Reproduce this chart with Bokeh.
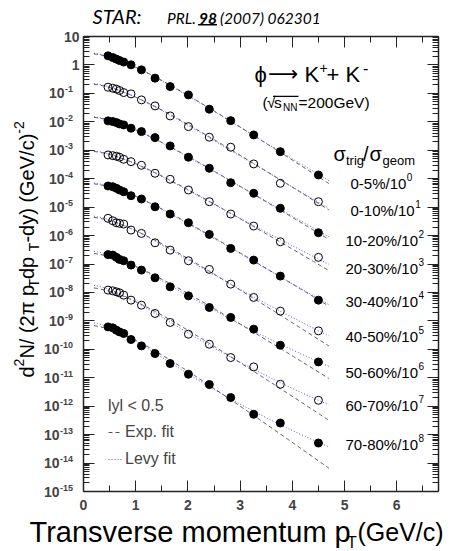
import numpy as np
from bokeh.plotting import figure
from bokeh.models import (Range1d, FixedTicker, LinearAxis, LogAxis, Label,
                          Legend, LegendItem, BoxAnnotation, CustomJSTickFormatter)
from bokeh.embed import file_html
from bokeh.resources import INLINE

# ---------------- data ----------------
pt = [0.47, 0.56, 0.63, 0.69, 0.77, 0.91, 1.11, 1.37, 1.66, 2.01, 2.41, 2.82, 3.26, 3.77, 4.50]

y_0_5   = [2.09, 1.82, 1.60, 1.43, 1.26, 1.01, 0.672, 0.343, 0.173, 0.0885, 0.0278, 0.0110, 3.46e-3, 8.93e-4, 1.35e-4]
y_0_10  = [0.165, 0.152, 0.141, 0.126, 0.107, 0.0960, 0.0590, 0.0363, 0.0161, 6.78e-3, 2.87e-3, 1.28e-3, 3.30e-4, 6.89e-5, 1.55e-5]
y_10_20 = [1.08e-2, 1.02e-2, 9.38e-3, 8.43e-3, 7.78e-3, 5.96e-3, 4.52e-3, 2.78e-3, 1.42e-3, 5.68e-4, 2.32e-4, 7.23e-5, 3.06e-5, 9.08e-6, 1.26e-6]
y_20_30 = [6.84e-4, 6.46e-4, 6.15e-4, 5.68e-4, 4.82e-4, 3.97e-4, 2.96e-4, 1.55e-4, 9.53e-5, 4.00e-5, 1.55e-5, 5.71e-6, 2.16e-6, 6.05e-7, 1.71e-7]
y_30_40 = [5.53e-5, 5.22e-5, 4.59e-5, 4.00e-5, 3.48e-5, 2.52e-5, 1.93e-5, 1.03e-5, 5.71e-6, 2.82e-6, 1.10e-6, 3.54e-7, 1.37e-7, 3.75e-8, 5.36e-9]
y_40_50 = [4.04e-6, 3.32e-6, 2.82e-6, 2.69e-6, 2.54e-6, 1.56e-6, 1.19e-6, 5.57e-7, 3.08e-7, 1.30e-7, 6.46e-8, 1.96e-8, 6.67e-9, 2.20e-9, 4.45e-10]
y_50_60 = [2.14e-7, 2.06e-7, 1.71e-7, 1.45e-7, 1.30e-7, 9.14e-8, 6.10e-8, 3.27e-8, 1.57e-8, 7.59e-9, 2.96e-9, 1.32e-9, 5.11e-10, 1.39e-10, 3.60e-11]
y_60_70 = [1.21e-8, 1.14e-8, 1.05e-8, 9.68e-9, 8.04e-9, 5.36e-9, 3.57e-9, 1.82e-9, 8.79e-10, 3.40e-10, 1.51e-10, 5.14e-11, 2.40e-11, 5.90e-12, 1.61e-12]
y_70_80 = [6.15e-10, 5.68e-10, 4.71e-10, 4.10e-10, 3.60e-10, 2.21e-10, 1.32e-10, 7.11e-11, 3.16e-11, 1.33e-11, 5.77e-12, 2.01e-12, 5.19e-13, 2.56e-13, 5.06e-14]

series = [y_0_5, y_0_10, y_10_20, y_20_30, y_30_40, y_40_50, y_50_60, y_60_70, y_70_80]
cent_labels = ["0-5%/10", "0-10%/10", "10-20%/10", "20-30%/10", "30-40%/10",
               "40-50%/10", "50-60%/10", "60-70%/10", "70-80%/10"]
cent_exps = ["0", "1", "2", "3", "4", "5", "6", "7", "8"]
filled = [True, False, True, False, True, False, True, False, True]

x_ticks = [0, 1, 2, 3, 4, 5, 6]
y_exps = list(range(-15, 2))
X_MIN, X_MAX = 0.0, 6.8
Y_MIN, Y_MAX = 1e-15, 10.0

PHI_MASS = 1.019
FIT_LO, FIT_HI = 0.2, 4.7

# ---------------- figure (frame = whole canvas, axes fixed on the plot box) -----
W, H = 450, 551
BL, BR, BT, BB = 83.0, 438.0, 36.0, 491.0      # plot box edges in canvas px
xs = (BR - BL) / (X_MAX - X_MIN)
x0 = X_MIN - BL / xs
x1 = X_MAX + (W - BR) / xs
ds = (BB - BT) / (np.log10(Y_MAX) - np.log10(Y_MIN))
y1 = 10 ** (np.log10(Y_MAX) + BT / ds)
y0 = 10 ** (np.log10(Y_MIN) - (H - BB) / ds)

p = figure(width=W, height=H, x_range=Range1d(x0, x1), y_range=Range1d(y0, y1),
           y_axis_type="log", output_backend="svg", toolbar_location=None,
           min_border=0, min_border_left=0, min_border_right=0, min_border_top=0,
           min_border_bottom=0)
p.xgrid.visible = False
p.ygrid.visible = False
p.outline_line_color = None
p.background_fill_color = "white"
p.border_fill_color = "white"

xt = FixedTicker(ticks=x_ticks, minor_ticks=[t + 0.5 for t in range(0, 7)])
yt = FixedTicker(ticks=[10.0 ** k for k in y_exps],
                 minor_ticks=[m * 10.0 ** k for k in y_exps[:-1] for m in range(2, 10)])

AX = "#222222"
def style_axis(ax, labels=False):
    ax.axis_line_color = AX
    ax.axis_line_width = 1.5
    ax.major_tick_line_color = AX
    ax.minor_tick_line_color = AX
    ax.major_tick_out = 0
    ax.minor_tick_out = 0
    ax.major_tick_in = 11
    ax.minor_tick_in = 6
    if not labels:
        ax.formatter = CustomJSTickFormatter(code="return ''")
        ax.major_label_text_font_size = "6px"
        ax.major_label_text_alpha = 0
        ax.major_label_standoff = 0

bx = p.xaxis[0]
bx.ticker = xt
style_axis(bx, labels=True)
bx.fixed_location = Y_MIN
bx.bounds = (X_MIN, X_MAX)
bx.major_label_text_font = "Liberation Sans"
bx.major_label_text_font_style = "bold"
bx.major_label_text_font_size = "14px"
bx.major_label_standoff = 8

ly = p.yaxis[0]
ly.ticker = yt
style_axis(ly)
ly.fixed_location = X_MIN
ly.bounds = (Y_MIN, Y_MAX)

tx = LinearAxis(ticker=xt, fixed_location=Y_MAX, bounds=(X_MIN, X_MAX))
style_axis(tx)
p.add_layout(tx, "above")
ry = LogAxis(ticker=yt, fixed_location=X_MAX, bounds=(Y_MIN, Y_MAX))
style_axis(ry)
p.add_layout(ry, "right")

# ---------------- fits ----------------
def mt(x):
    x = np.asarray(x, dtype=float)
    return np.sqrt(x * x + PHI_MASS ** 2) - PHI_MASS

pf = np.linspace(FIT_LO, FIT_HI, 200)
ptv = np.asarray(pt)
n_grid = np.linspace(3, 80, 155)[:, None, None]
T_grid = np.linspace(0.10, 0.60, 201)[None, :, None]

exp_r = None
levy_r = None
for ys in series:
    xm = mt(ptv)
    lyv = np.log(np.asarray(ys))
    sel = ptv < 3.5
    b, a = np.polyfit(xm[sel], lyv[sel], 1)
    e_curve = np.exp(a + b * mt(pf))
    g = -n_grid * np.log1p(xm[None, None, :] / (n_grid * T_grid))
    la = np.mean(lyv - g, axis=2, keepdims=True)
    res = np.sum((lyv - g - la) ** 2, axis=2)
    i, j = np.unravel_index(np.argmin(res), res.shape)
    n_b = n_grid[i, 0, 0]
    T_b = T_grid[0, j, 0]
    la_b = la[i, j, 0]
    l_curve = np.exp(la_b - n_b * np.log1p(mt(pf) / (n_b * T_b)))
    r1 = p.line(pf, e_curve, line_color="#555555", line_width=1, line_dash="4 3")
    r2 = p.line(pf, l_curve, line_color="#4a4aff", line_width=1, line_dash="1 2")
    exp_r = exp_r or r1
    levy_r = levy_r or r2

for ys, f in zip(series, filled):
    if f:
        p.scatter(pt, ys, marker="circle", size=8, fill_color="black", line_color="black")
    else:
        p.scatter(pt, ys, marker="circle", size=8, fill_color=None, line_color="black",
                  line_width=1)

# ---------------- text helpers ----------------
AW = {" ": 278, "(": 333, ")": 333, "-": 333, ".": 278, "/": 278, "%": 889, "<": 584,
      "=": 584, "+": 584}
for d in "0123456789":
    AW[d] = 556

def tw(s, size):
    return sum(AW.get(c, 556) for c in s) * size / 1000.0

def lab(text, X, Y, size, align="left", style="normal", font="Liberation Sans",
        angle=0.0, color="black"):
    # (X, Y): canvas px from the top-left; Y is the vertical middle of the text
    p.add_layout(Label(x=X, y=H - Y, x_units="screen", y_units="screen", text=text,
                       text_font=font, text_font_size=f"{size}px", text_align=align,
                       text_baseline="middle", text_font_style=style, angle=angle,
                       text_color=color))

def box(left, right, top, bottom):
    p.add_layout(BoxAnnotation(left=left, right=right, top=H - top, bottom=H - bottom,
                               left_units="screen", right_units="screen",
                               top_units="screen", bottom_units="screen",
                               fill_color="black", fill_alpha=1, line_color=None))

# y tick labels (placed on the data scale)
for k in y_exps:
    yv = 10.0 ** k
    if k >= 0:
        p.add_layout(Label(x=79, y=yv, x_units="screen", y_units="data",
                           text=str(10 ** k), text_font="Liberation Sans",
                           text_font_style="bold", text_font_size="14px",
                           text_align="right", text_baseline="middle"))
    else:
        e = str(k)
        p.add_layout(Label(x=72.5, y=yv, x_units="screen", y_units="data",
                           y_offset=4, text=e, text_font="Liberation Sans",
                           text_font_style="bold", text_font_size="9px",
                           text_align="right", text_baseline="middle"))
        p.add_layout(Label(x=72.5 - tw(e, 9) - 0.5, y=yv, x_units="screen",
                           y_units="data", text="10", text_font="Liberation Sans",
                           text_font_style="bold", text_font_size="14px",
                           text_align="right", text_baseline="middle"))

# header
lab("STAR:", 92, 15, 20, style="italic", font="Lato")
lab("PRL.", 166.5, 17.5, 15.5, style="italic", font="Lato")
lab("98", 198.5, 17.5, 15.5, style="bold italic", font="Lato")
lab("(2007) 062301", 219.5, 17.5, 15.5, style="italic", font="Lato")
box(197.5, 216.5, 23.6, 25.0)

# phi -> K+ K-
lab("\u03d5", 254, 73.5, 22)
lab("\u27f6", 267.5, 73, 21, font="DejaVu Sans")
lab("K", 304, 73.5, 22)
lab("+", 319, 67, 14)
lab("+", 326, 74, 22)
lab("K", 345, 73.5, 22)
lab("-", 362.5, 67, 16)

# (sqrt sNN = 200 GeV)
lab("(", 262, 101.5, 15.5)
lab("\u221a", 266.5, 101.5, 15.5)
lab("s", 273.5, 101.5, 15.5)
lab("NN", 282.5, 107, 10)
lab("=200GeV)", 298, 101.5, 15.5)
box(272.5, 298, 95.3, 96.5)

# sigma_trig / sigma_geom
lab("\u03c3", 333, 153.5, 20)
lab("trig", 345.5, 160, 13)
lab("/", 362.5, 153.5, 20)
lab("\u03c3", 369, 153.5, 20)
lab("geom", 382, 160, 13)

# centrality labels
cent_x = [350, 350, 345, 345, 345, 345, 345, 345, 345]
cent_y = [183.3, 210, 240, 268.3, 301.3, 336, 372, 405.3, 443.7]
for t, e, X, Y in zip(cent_labels, cent_exps, cent_x, cent_y):
    lab(t, X, Y, 15)
    lab(e, X + tw(t, 15) + 0.5, Y - 6.6, 10)

# legend
leg = Legend(items=[LegendItem(label="Exp. fit", renderers=[exp_r]),
                    LegendItem(label="Levy fit", renderers=[levy_r])],
             location=(108, H - 469), title="lyl < 0.5",
             title_text_font="Liberation Sans", title_text_font_size="16px",
             title_text_font_style="normal", title_standoff=7,
             label_text_font="Liberation Sans", label_text_font_size="16px",
             glyph_width=14, glyph_height=20, label_height=20, label_standoff=3,
             spacing=7, padding=0, margin=0, border_line_color=None,
             background_fill_alpha=0)
p.add_layout(leg, "center")

# x axis title
lab("Transverse momentum p", 29, 531, 29)
lab("T", 346.5, 541.5, 16)
lab("(GeV/c)", 357, 531, 25)

# y axis title (rotated, reading upwards)
A = np.pi / 2
Y0 = 377
CX = 26.5      # middle line of the main text
lab("d", CX, Y0, 20, angle=A)
lab("2", CX - 8, Y0 - 11.1, 14, angle=A)
lab("N/ (2\u03c0 p", CX, Y0 - 18.9, 20, angle=A)
lab("T", CX + 7, Y0 - 89.9, 14, angle=A)
lab(" dp", CX, Y0 - 98.5, 20, angle=A)
lab("T", CX + 7, Y0 - 126.3, 14, angle=A)
lab("-dy) (GeV/c)", CX, Y0 - 134.9, 20, angle=A)
lab("-2", CX - 8, Y0 - 243.8, 14, angle=A)

open("out.html", "w").write(file_html(p, INLINE))
